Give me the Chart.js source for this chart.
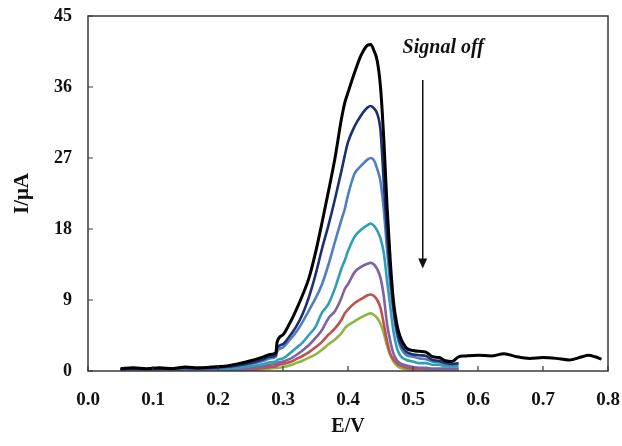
<!DOCTYPE html>
<html>
<head>
<meta charset="utf-8">
<script src="https://cdn.jsdelivr.net/npm/chart.js@4.4.1/dist/chart.umd.min.js"></script>
<style>
  html, body { margin: 0; padding: 0; background: #ffffff; }
  #wrap { width: 622px; height: 446px; position: relative; }
</style>
</head>
<body>
<div id="wrap"><canvas id="c" width="622" height="446"></canvas></div>
<script>
// ---- Data ----
const E = [0.05,0.07,0.09,0.11,0.13,0.15,0.17,0.19,0.21,0.23,0.25,0.27,0.28,0.289,0.291,0.30,0.31,0.32,0.33,0.34,0.35,0.36,0.37,0.38,0.39,0.395,0.40,0.41,0.42,0.43,0.435,0.44,0.445,0.45,0.455,0.46,0.465,0.47,0.475,0.48,0.49,0.50,0.51,0.52,0.53,0.54,0.55,0.56,0.57];

const I_black = [0.3,0.4,0.3,0.4,0.3,0.5,0.4,0.5,0.6,0.9,1.3,1.8,2.1,2.3,3.7,4.6,6.0,7.7,9.6,11.8,15.0,18.8,22.8,27.0,32.0,34.0,35.3,37.8,40.0,41.3,41.4,40.6,39.3,36.0,29.5,21.0,14.0,8.8,6.0,4.4,2.9,2.6,2.5,2.4,1.8,1.7,1.3,1.2,1.8];
const E_blackTail = [0.58,0.60,0.62,0.64,0.66,0.68,0.70,0.72,0.74,0.76,0.77,0.78,0.79];
const I_blackTail = [1.9,2.0,1.9,2.2,1.8,1.6,1.7,1.6,1.4,1.8,2.0,1.8,1.5];

const I_navy   = [0.2,0.3,0.2,0.3,0.3,0.4,0.3,0.4,0.5,0.7,1.0,1.5,1.8,2.0,2.9,3.4,4.4,5.6,7.2,9.4,12.2,15.5,18.5,21.8,25.4,27.3,29.0,31.0,32.4,33.4,33.6,33.3,32.6,30.5,24.0,17.5,12.5,8.0,5.2,3.6,2.4,2.1,2.0,1.9,1.4,1.3,1.0,0.9,1.0];
const I_blue   = [0.2,0.3,0.2,0.3,0.2,0.3,0.3,0.3,0.4,0.6,0.9,1.3,1.6,1.8,2.5,3.0,3.9,4.9,6.2,7.7,9.2,11.0,13.5,16.4,19.2,20.5,22.3,25.0,26.0,26.8,27.0,26.7,25.6,24.0,20.5,15.5,11.0,7.5,4.8,3.2,2.0,1.8,1.6,1.5,1.2,1.1,0.9,0.8,0.9];
const I_teal   = [0.1,0.2,0.1,0.2,0.1,0.2,0.2,0.2,0.3,0.4,0.6,0.9,1.1,1.2,1.4,1.6,2.2,2.9,3.6,4.6,5.6,7.4,8.5,10.5,13.0,14.0,15.2,17.0,17.9,18.5,18.7,18.4,17.8,16.8,15.0,11.5,8.2,5.0,3.0,2.0,1.4,1.2,1.0,1.0,0.8,0.8,0.6,0.6,0.6];
const I_purple = [0.1,0.1,0.1,0.1,0.1,0.1,0.1,0.1,0.1,0.2,0.4,0.6,0.8,0.9,1.0,1.2,1.5,2.0,2.6,3.3,4.2,5.2,6.7,7.6,9.3,10.4,11.0,12.5,13.2,13.6,13.7,13.5,12.9,11.8,9.5,6.0,3.8,2.2,1.4,1.0,0.7,0.5,0.4,0.4,0.3,0.3,0.3,0.3,0.3];
const I_red    = [0.05,0.05,0.05,0.05,0.05,0.05,0.05,0.05,0.1,0.1,0.2,0.4,0.5,0.6,0.7,0.9,1.1,1.5,1.9,2.4,3.0,3.7,4.6,5.4,6.5,7.3,7.8,8.6,9.1,9.6,9.7,9.5,9.0,8.0,6.0,3.8,2.2,1.5,1.0,0.7,0.4,0.3,0.3,0.3,0.2,0.2,0.2,0.2,0.2];
const I_green  = [0.0,0.0,0.0,0.0,0.0,0.0,0.0,0.05,0.05,0.1,0.1,0.2,0.3,0.4,0.4,0.5,0.7,1.0,1.3,1.7,2.1,2.7,3.4,4.0,4.8,5.4,5.8,6.3,6.8,7.2,7.3,7.1,6.7,6.0,4.8,3.2,2.0,1.2,0.7,0.4,0.2,0.1,0.1,0.1,0.1,0.1,0.1,0.1,0.1];

const xTicks = [0,0.1,0.2,0.3,0.4,0.5,0.6,0.7,0.8];
const yTicks = [0,9,18,27,36,45];
const xTitle = 'E/V';
const yTitle = 'I/μA';
const noteText = 'Signal off';
// annotation anchor (in data units)
const noteE = 0.484, noteI = 40.3;
const arrowE = 0.515, arrowFromI = 36.9, arrowToI = 13.0;

// ---- Build datasets ----
function pts(xs, ys) { return xs.map((v, i) => ({ x: v, y: ys[i] })); }
const blackPts = pts(E, I_black).concat(pts(E_blackTail, I_blackTail));

const series = [
  { label: 'black',  data: blackPts,          color: '#000000', w: 3.0 },
  { label: 'navy',   data: pts(E, I_navy),    color: '#1c2f6e', w: 2.6 },
  { label: 'blue',   data: pts(E, I_blue),    color: '#4f7fc0', w: 2.6 },
  { label: 'teal',   data: pts(E, I_teal),    color: '#2fa0b4', w: 2.6 },
  { label: 'purple', data: pts(E, I_purple),  color: '#7e62a3', w: 2.6 },
  { label: 'red',    data: pts(E, I_red),     color: '#c0504d', w: 2.6 },
  { label: 'green',  data: pts(E, I_green),   color: '#8fb547', w: 2.6 }
];

const serif = '"Liberation Serif", "Times New Roman", serif';

const decor = {
  id: 'decor',
  afterDraw(chart) {
    const { ctx, chartArea: a, scales: { x, y } } = chart;
    ctx.save();
    // inward tick marks
    ctx.strokeStyle = '#3a3a3a';
    ctx.lineWidth = 1.2;
    ctx.beginPath();
    xTicks.forEach(v => { const px = x.getPixelForValue(v); ctx.moveTo(px, a.bottom); ctx.lineTo(px, a.bottom - 5); });
    yTicks.forEach(v => { const py = y.getPixelForValue(v); ctx.moveTo(a.left, py); ctx.lineTo(a.left + 5, py); });
    ctx.stroke();
    // frame
    ctx.lineWidth = 1.5;
    ctx.strokeRect(a.left, a.top, a.right - a.left, a.bottom - a.top);
    // note text
    ctx.fillStyle = '#111';
    ctx.font = 'italic bold 20px ' + serif;
    ctx.textBaseline = 'alphabetic';
    ctx.textAlign = 'left';
    ctx.fillText(noteText, x.getPixelForValue(noteE), y.getPixelForValue(noteI));
    // arrow
    const ax = x.getPixelForValue(arrowE);
    const y1 = y.getPixelForValue(arrowFromI);
    const y2 = y.getPixelForValue(arrowToI);
    ctx.strokeStyle = '#111';
    ctx.lineWidth = 1.5;
    ctx.beginPath();
    ctx.moveTo(ax, y1);
    ctx.lineTo(ax, y2 - 9);
    ctx.stroke();
    ctx.beginPath();
    ctx.moveTo(ax - 4.5, y2 - 10);
    ctx.lineTo(ax + 4.5, y2 - 10);
    ctx.lineTo(ax, y2);
    ctx.closePath();
    ctx.fill();
    ctx.restore();
  }
};

new Chart(document.getElementById('c'), {
  type: 'scatter',
  data: {
    datasets: series.map((s, i) => ({
      label: s.label,
      data: s.data,
      showLine: true,
      borderColor: s.color,
      backgroundColor: s.color,
      borderWidth: s.w,
      pointRadius: 0,
      pointHoverRadius: 0,
      fill: false,
      cubicInterpolationMode: 'monotone',
      order: i
    }))
  },
  options: {
    responsive: false,
    animation: false,
    events: [],
    layout: { padding: { top: 16, right: 14, left: 0, bottom: 0 } },
    plugins: { legend: { display: false }, tooltip: { enabled: false } },
    scales: {
      x: {
        type: 'linear',
        min: 0, max: 0.8,
        afterBuildTicks(scale) { scale.ticks = xTicks.map(v => ({ value: v })); },
        afterFit(scale) { scale.height = 75; scale.paddingLeft = 0; scale.paddingRight = 0; },
        ticks: {
          callback: v => Number(v).toFixed(1),
          color: '#111',
          font: { family: serif, size: 19, weight: 'bold' },
          padding: 18,
          maxRotation: 0,
          autoSkip: false
        },
        grid: { display: false, drawTicks: false },
        border: { display: false },
        title: {
          display: true, text: xTitle, color: '#111',
          font: { family: serif, size: 20, weight: 'bold' },
          padding: { top: 0, bottom: 7 }
        }
      },
      y: {
        type: 'linear',
        min: 0, max: 45,
        afterBuildTicks(scale) { scale.ticks = yTicks.map(v => ({ value: v })); },
        afterFit(scale) { scale.width = 88; scale.paddingTop = 0; scale.paddingBottom = 0; },
        ticks: {
          color: '#111',
          font: { family: serif, size: 18, weight: 'bold' },
          padding: 16,
          autoSkip: false
        },
        grid: { display: false, drawTicks: false },
        border: { display: false },
        title: {
          display: true, text: yTitle, color: '#111',
          font: { family: serif, size: 21, weight: 'bold' },
          padding: { top: 10, bottom: 0 }
        }
      }
    }
  },
  plugins: [decor]
});
</script>
</body>
</html>
